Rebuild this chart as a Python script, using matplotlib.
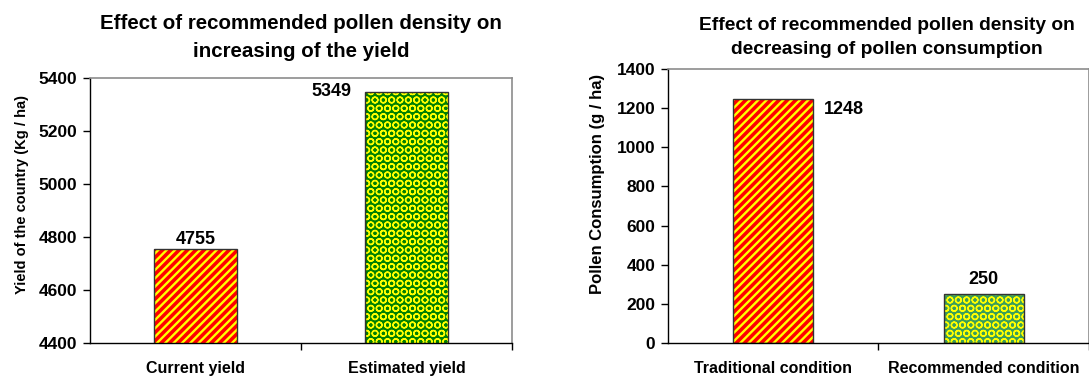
import numpy as np
import matplotlib
matplotlib.use('Agg')
import matplotlib.pyplot as plt

plt.rcParams['font.family'] = 'Liberation Sans'
plt.rcParams['font.weight'] = 'bold'
plt.rcParams['axes.titleweight'] = 'bold'
plt.rcParams['axes.labelweight'] = 'bold'

# data
yield_cats = ['Current yield', 'Estimated yield']
yield_vals = [4755, 5349]
yield_ticks = [4400, 4600, 4800, 5000, 5200, 5400]

pollen_cats = ['Traditional condition', 'Recommended condition']
pollen_vals = [1248, 250]
pollen_ticks = [0, 200, 400, 600, 800, 1000, 1200, 1400]

fig = plt.figure(figsize=(10.89, 3.81), dpi=100)

def stripe_bar(ax, x, v, w):
	with plt.rc_context({'hatch.linewidth': 1.7}):
		ax.bar(x, v, width=w, color='#ff0000', edgecolor='#ffff00', hatch='////', linewidth=0)

def dot_bar(ax, x, v, w, c):
	with plt.rc_context({'hatch.linewidth': 1.0}):
		ax.bar(x, v, width=w, color=c, edgecolor='#ffff00', hatch='OO', linewidth=0)

def style_axes(ax, ticks, n):
	ax.set_yticks(ticks)
	ax.set_xticks(np.arange(n))
	ax.set_xticks(np.arange(n) + 0.5, minor=True)
	ax.tick_params(axis='x', which='major', length=0, pad=13)
	ax.tick_params(axis='x', which='minor', length=5, direction='out', width=1)
	ax.tick_params(axis='y', length=5, direction='out', width=1, pad=4, labelsize=12.5)
	for s in ['top', 'right']:
		ax.spines[s].set_color('#8c8c8c')
		ax.spines[s].set_linewidth(1.2)
	for s in ['left', 'bottom']:
		ax.spines[s].set_color('black')
		ax.spines[s].set_linewidth(1.0)

#---------------- left chart ----------------
ax1 = fig.add_axes([0.0826, 0.0997, 0.3875, 0.6955])
x = np.arange(len(yield_cats))
stripe_bar(ax1, x[0], yield_vals[0], 0.39)
dot_bar(ax1, x[1], yield_vals[1], 0.39, '#008000')
ax1.bar(x, yield_vals, width=0.39, fill=False, edgecolor='#333333', linewidth=1.0)
ax1.set_xlim(-0.5, 1.5)
ax1.set_ylim(4400, 5400)
style_axes(ax1, yield_ticks, 2)
ax1.set_xticklabels(yield_cats, fontsize=11.5)
ax1.set_ylabel('Yield of the country (Kg / ha)', fontsize=10.5)
ax1.yaxis.set_label_coords(-0.145, 0.56)
ax1.set_title('Effect of recommended pollen density on\nincreasing of the yield',
	fontsize=14.8, pad=15, linespacing=1.6)
ax1.text(x[0], yield_vals[0] + 5, str(yield_vals[0]), ha='center', va='bottom', fontsize=13)
ax1.text(x[1] - 0.26, yield_vals[1], str(yield_vals[1]), ha='right', va='center', fontsize=13)

#---------------- right chart ----------------
ax2 = fig.add_axes([0.6134, 0.0997, 0.3866, 0.719])
x2 = np.arange(len(pollen_cats))
stripe_bar(ax2, x2[0], pollen_vals[0], 0.38)
dot_bar(ax2, x2[1], pollen_vals[1], 0.38, '#3a9e5a')
ax2.bar(x2, pollen_vals, width=0.38, fill=False, edgecolor='#333333', linewidth=1.0)
ax2.set_xlim(-0.5, 1.467)
ax2.set_ylim(0, 1400)
style_axes(ax2, pollen_ticks, 2)
ax2.set_xticklabels(pollen_cats, fontsize=11.5)
ax2.set_ylabel('Pollen Consumption (g / ha)', fontsize=12)
ax2.yaxis.set_label_coords(-0.15, 0.58)
ax2.set_title('Effect of recommended pollen density on\ndecreasing of pollen consumption',
	fontsize=13.8, pad=11, linespacing=1.55, x=0.52)
ax2.text(x2[0] + 0.24, pollen_vals[0] - 10, str(pollen_vals[0]), ha='left', va='top', fontsize=13)
ax2.text(x2[1], pollen_vals[1] + 30, str(pollen_vals[1]), ha='center', va='bottom', fontsize=13)

fig.savefig('out.png', dpi=100)
